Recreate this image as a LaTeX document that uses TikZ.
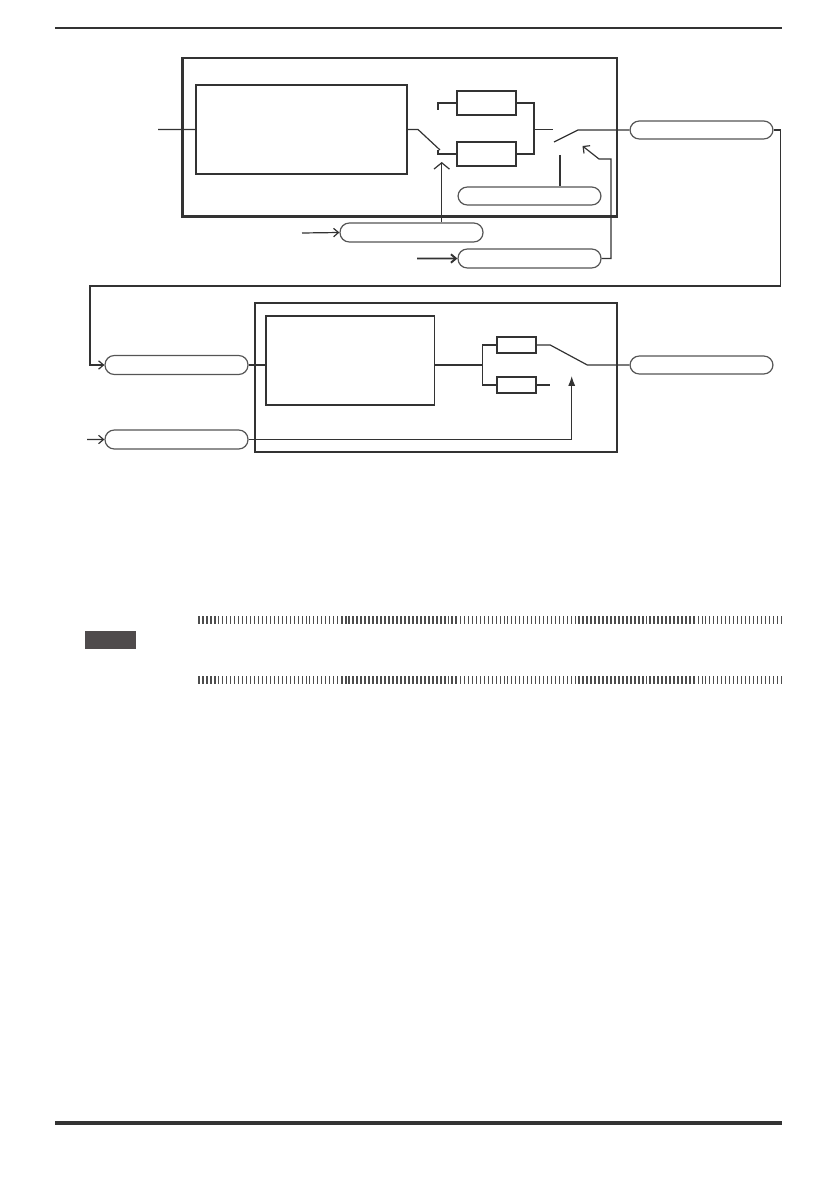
\documentclass[tikz,border=0pt]{standalone}
\usepackage{tikz}
\usetikzlibrary{shapes, arrows, calc, positioning, backgrounds, fit}
\usetikzlibrary{arrows.meta}
\definecolor{wirecol}{HTML}{333333}
\definecolor{pillcol}{HTML}{555555}
\definecolor{tickcol}{HTML}{4D4D4D}
\definecolor{tabcol}{HTML}{4F4B4C}

\begin{document}
\begin{tikzpicture}[
      x=0.709pt, y=-0.709pt,
      wire/.style={draw=wirecol, line width=0.85pt},
      frame/.style={draw=wirecol, line width=0.9pt, inner sep=0pt},
      heavyframe/.style={draw=wirecol, line width=1.5pt},
      block/.style={draw=wirecol, line width=0.85pt, inner sep=0pt},
      pill/.style={draw=pillcol, line width=0.85pt, rounded corners=6.6pt, inner sep=0pt},
      feed/.style={wire, -{Straight Barb[length=3.5pt, width=6pt]}},
      tick/.style={draw=tickcol}
    ]
    \useasboundingbox (0,0) rectangle (839,1191);

    % page rules
    \coordinate (ruleTL) at (55,28);
    \coordinate (ruleTR) at (782,28);
    \coordinate (ruleBL) at (55,1123);
    \coordinate (ruleBR) at (782,1123);
    \draw[draw=wirecol, line width=0.9pt] (ruleTL) -- (ruleTR);
    \draw[draw=wirecol, line width=2.8pt] (ruleBL) -- (ruleBR);

    % upper stage
    \node[frame, fit={(183,58) (617,216)}] (stage1) {};
    \draw[heavyframe] (stage1.north west) |- (stage1.south east);
    \node[block, fit={(196,85) (407,174)}] (conv1) {};
    \node[block, fit={(457,91) (516,115)}] (upperres) {};
    \node[block, fit={(457,142) (516,166)}] (lowerres) {};
    \node[pill, fit={(458,187) (601,205)}] (selA) {};
    \node[pill, fit={(340,223) (483,242)}] (selB) {};
    \node[pill, fit={(458,249) (601,268)}] (selC) {};
    \node[pill, fit={(630,121) (773,139)}] (outA) {};

    \coordinate (inA) at (158,129.5);
    \draw[wire] (inA) -- (conv1.west);
    \draw[wire] (conv1.east) -- (418,129.5) -- (440,150);
    \draw[wire] (438,150) -- (438,154) -- (lowerres.west);
    \draw[wire] (438,110) -- (438,103) -- (upperres.west);
    \draw[wire] (upperres.east) -- (534,103) -- (534,154) -- (lowerres.east);
    \draw[wire] (534,129.5) -- (553,129.5);
    \draw[wire] (554,142) -- (578,130) -- (outA.west);
    \coordinate (tapA) at (560,155);
    \draw[wire] (tapA) -- (selA.north -| tapA);

    % control inputs
    \coordinate (ctrlB) at (302,233);
    \draw[feed] (ctrlB) -- (selB.west);
    \coordinate (ctrlC) at (417,258.5);
    \draw[feed, line width=1.4pt] (ctrlC) -- (selC.west);
    \coordinate (armB) at (441.7,162);
    \draw[wire, -{Straight Barb[length=4.5pt, width=11pt]}] (selB.north -| armB) -- (armB);
    \coordinate (armC) at (582.5,146);
    \draw[wire, -{Straight Barb[length=3.5pt, width=7pt]}] (selC.east) -| (611,159) -- (599,159) -- (armC);

    % link to lower stage
    \node[pill, fit={(105,355.5) (248,374.5)}] (inB) {};
    \draw[feed] (outA.east) -- (780.7,130) |- (90,286) |- (inB.west);

    % lower stage
    \node[frame, fit={(255,303) (617,452)}] (stage2) {};
    \node[block, fit={(266,316) (434.5,405)}] (conv2) {};
    \node[block, fit={(497,337) (536,353)}] (res3) {};
    \node[block, fit={(497,377) (536,393)}] (res4) {};
    \node[pill, fit={(105,430) (248,449)}] (selD) {};
    \node[pill, fit={(630,356) (773,374)}] (outB) {};

    \draw[wire] (inB.east) -- (inB.east -| conv2.west);
    \coordinate (tapB) at (482.3,365);
    \draw[wire] (conv2.east |- tapB) -- (tapB);
    \draw[wire] (res3.west) -- (res3.west -| tapB) -- (res4.west -| tapB) -- (res4.west);
    \draw[wire] (res3.east) -- ++(13.6,0) -- (587.3,365) -- (outB.west);
    \draw[wire] (res4.east) -- ++(13.6,0);
    \coordinate (ctrlD) at (87,439.5);
    \draw[feed] (ctrlD) -- (selD.west);
    \coordinate (armD) at (571.7,376);
    \draw[wire, -{Latex[length=7pt, width=5pt]}] (selD.east) -| (armD);

    % note tab and striped bars
    \fill[tabcol] (85,631) rectangle (136,649);
    \foreach \ya/\yb in {616/624, 676/684} {
      \foreach \a/\b in {0/4, 36/65, 96/125}
        \foreach \i in {\a,...,\b}
          \draw[tick, line width=1.4pt] (199+3.96*\i,\ya) -- (199+3.96*\i,\yb);
      \foreach \a/\b in {5/35, 66/95, 126/147}
        \foreach \i in {\a,...,\b}
          \draw[tick, line width=0.6pt] (199+3.96*\i,\ya) -- (199+3.96*\i,\yb);
    }
  \end{tikzpicture}
\end{document}
